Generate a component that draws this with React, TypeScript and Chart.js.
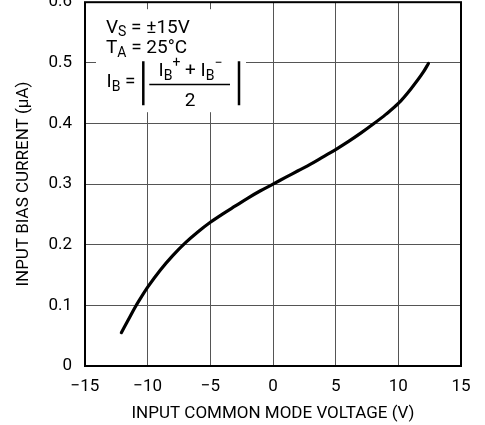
import React, { useEffect, useRef } from "react";
import { Chart, registerables } from "chart.js";

Chart.register(...registerables);

const voltage = [-12.1, -11.5, -11, -10.5, -10, -9, -8, -7, -6, -5, -4, -3, -2, -1, 0, 1, 2, 3, 4, 5, 6, 7, 8, 9, 10, 11, 12, 12.4];
const biasCurrent = [0.055, 0.078, 0.097, 0.114, 0.13, 0.158, 0.182, 0.203, 0.221, 0.237, 0.251, 0.264, 0.277, 0.289, 0.3, 0.311, 0.322, 0.333, 0.345, 0.357, 0.37, 0.384, 0.399, 0.415, 0.433, 0.457, 0.485, 0.499];

const xTicks = [-15, -10, -5, 0, 5, 10, 15];
const yTicks = [0, 0.1, 0.2, 0.3, 0.4, 0.5, 0.6];

const FONT = "Roboto, 'Liberation Sans', sans-serif";

type Seg = { t: string; s: number; dy: number };

function drawRun(ctx: CanvasRenderingContext2D, x: number, y: number, segs: Seg[]) {
  let cx = x;
  for (const sg of segs) {
    ctx.font = `${sg.s}px ${FONT}`;
    ctx.fillText(sg.t, cx, y + sg.dy);
    cx += ctx.measureText(sg.t).width;
  }
  return cx;
}

function runWidth(ctx: CanvasRenderingContext2D, segs: Seg[]) {
  let w = 0;
  for (const sg of segs) {
    ctx.font = `${sg.s}px ${FONT}`;
    w += ctx.measureText(sg.t).width;
  }
  return w;
}

const annotationPlugin = {
  id: "annotationBox",
  beforeDatasetsDraw(chart: any) {
    const { ctx, chartArea } = chart;
    const L = chartArea.left;
    const T = chartArea.top;
    ctx.save();
    ctx.fillStyle = "#ffffff";
    ctx.fillRect(L + 11, T + 7, 150, 103);
    ctx.fillStyle = "#000";
    ctx.strokeStyle = "#000";
    ctx.textBaseline = "alphabetic";
    ctx.textAlign = "left";
    const big = 19;
    const small = 14;
    drawRun(ctx, L + 21, T + 30.5, [
      { t: "V", s: big, dy: 0 },
      { t: "S", s: small, dy: 3 },
      { t: " = \u00b115V", s: big, dy: 0 },
    ]);
    drawRun(ctx, L + 21, T + 50.5, [
      { t: "T", s: big, dy: 0 },
      { t: "A", s: small, dy: 4 },
      { t: " = 25\u00b0C", s: big, dy: 0 },
    ]);
    drawRun(ctx, L + 21.5, T + 85, [
      { t: "I", s: big, dy: 0 },
      { t: "B", s: small, dy: 4 },
      { t: " =", s: big, dy: 0 },
    ]);
    // absolute value bars
    ctx.lineWidth = 2.5;
    ctx.beginPath();
    ctx.moveTo(L + 58.3, T + 59);
    ctx.lineTo(L + 58.3, T + 103);
    ctx.moveTo(L + 154, T + 59);
    ctx.lineTo(L + 154, T + 103);
    ctx.stroke();
    // numerator
    const num: Seg[] = [
      { t: "I", s: big, dy: 0 },
      { t: "B", s: small, dy: 4 },
      { t: "+", s: small, dy: -9 },
      { t: " + ", s: big, dy: 0 },
      { t: "I", s: big, dy: 0 },
      { t: "B", s: small, dy: 4 },
      { t: "\u2212", s: small, dy: -9 },
    ];
    const cxm = L + 105.5;
    const nw = runWidth(ctx, num);
    drawRun(ctx, cxm - nw / 2, T + 74, num);
    ctx.lineWidth = 1.5;
    ctx.beginPath();
    ctx.moveTo(L + 64.3, T + 82.3);
    ctx.lineTo(L + 145, T + 82.3);
    ctx.stroke();
    ctx.font = `${big}px ${FONT}`;
    ctx.textAlign = "center";
    ctx.fillText("2", L + 105, T + 104);
    ctx.restore();
  },
  afterDraw(chart: any) {
    const { ctx, chartArea } = chart;
    ctx.save();
    ctx.strokeStyle = "#000";
    ctx.lineWidth = 2;
    ctx.strokeRect(chartArea.left, chartArea.top, chartArea.right - chartArea.left, chartArea.bottom - chartArea.top);
    ctx.restore();
  },
};

export default function App() {
  const ref = useRef<HTMLCanvasElement | null>(null);
  useEffect(() => {
    if (!ref.current) return;
    const chart = new Chart(ref.current, {
      type: "line",
      data: {
        datasets: [
          {
            data: voltage.map((v, i) => ({ x: v, y: biasCurrent[i] })),
            borderColor: "#000",
            borderWidth: 3.2,
            pointRadius: 0,
            cubicInterpolationMode: "monotone",
            borderCapStyle: "round",
            fill: false,
          },
        ],
      },
      options: {
        animation: false,
        responsive: false,
        maintainAspectRatio: false,
        layout: { padding: { top: 0, right: 24, left: 0, bottom: 0 } },
        plugins: { legend: { display: false }, tooltip: { enabled: false } },
        scales: {
          x: {
            type: "linear",
            min: -15,
            max: 15,
            afterBuildTicks: (s: any) => {
              s.ticks = xTicks.map((v) => ({ value: v }));
            },
            ticks: {
              color: "#000",
              font: { family: FONT, size: 17 },
              padding: 11,
              maxRotation: 0,
              callback: (v: any) => (Number(v) < 0 ? "\u2212" + Math.abs(Number(v)) : String(v)),
            },
            grid: { color: "#555", lineWidth: 1, drawTicks: false },
            border: { display: false },
            title: {
              display: true,
              text: "INPUT COMMON MODE VOLTAGE (V)",
              color: "#000",
              font: { family: FONT, size: 17 },
              padding: { top: 0, bottom: 1 },
            },
            afterFit: (s: any) => {
              s.height = 59;
            },
          },
          y: {
            type: "linear",
            min: 0,
            max: 0.6,
            afterBuildTicks: (s: any) => {
              s.ticks = yTicks.map((v) => ({ value: v }));
            },
            ticks: {
              color: "#000",
              font: { family: FONT, size: 17 },
              padding: 13,
              callback: (v: any) => (Number(v) === 0 ? "0" : Number(v).toFixed(1)),
            },
            grid: { color: "#555", lineWidth: 1, drawTicks: false },
            border: { display: false },
            title: {
              display: true,
              text: "INPUT BIAS CURRENT (\u00b5A)",
              color: "#000",
              font: { family: FONT, size: 17 },
              padding: { top: 14, bottom: 0 },
            },
            afterFit: (s: any) => {
              s.width = 85;
            },
          },
        },
      },
      plugins: [annotationPlugin],
    } as any);
    return () => chart.destroy();
  }, []);
  return (
    <div style={{ position: "fixed", left: 0, top: -21, width: 485, height: 446, background: "#fff" }}>
      <canvas ref={ref} width={485} height={446} style={{ width: 485, height: 446, display: "block" }} />
    </div>
  );
}
